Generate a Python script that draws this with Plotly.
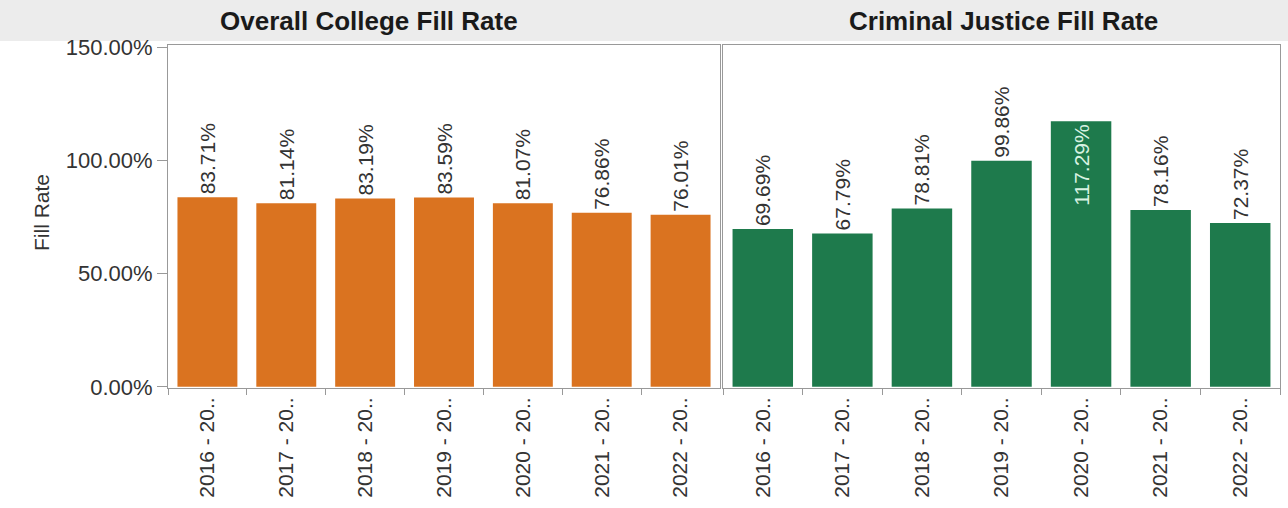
import plotly.graph_objects as go

categories = ["2016 - 2017", "2017 - 2018", "2018 - 2019", "2019 - 2020", "2020 - 2021", "2021 - 2022", "2022 - 2023"]
tick_labels = ["2016 - 20..", "2017 - 20..", "2018 - 20..", "2019 - 20..", "2020 - 20..", "2021 - 20..", "2022 - 20.."]
college_rate = [83.71, 81.14, 83.19, 83.59, 81.07, 76.86, 76.01]
cj_rate = [69.69, 67.79, 78.81, 99.86, 117.29, 78.16, 72.37]
panel_titles = ["Overall College Fill Rate", "Criminal Justice Fill Rate"]
y_ticks = [0, 50, 100, 150]
y_tick_labels = ["0.00%", "50.00%", "100.00%", "150.00%"]

W, H = 1288, 508
FONT = "Liberation Sans, Arial, sans-serif"
ORANGE = "#DA7320"
GREEN = "#1E7A4C"
TXT = "#333333"

def px_x(p):
    return p / W

def px_y(p):
    return 1 - p / H

fig = go.Figure()

fig.add_trace(go.Bar(
    x=categories, y=college_rate, xaxis="x", yaxis="y",
    marker=dict(color=ORANGE, line=dict(width=0)),
    text=[f"{v:.2f}%" for v in college_rate],
    textposition="outside", textangle=-90, constraintext="none", cliponaxis=False,
    textfont=dict(family=FONT, size=21, color=TXT),
    width=0.76, showlegend=False,
))

cj_pos = ["inside" if v > 110 else "outside" for v in cj_rate]
fig.add_trace(go.Bar(
    x=categories, y=cj_rate, xaxis="x2", yaxis="y2",
    marker=dict(color=GREEN, line=dict(width=0)),
    text=[f"{v:.2f}%" for v in cj_rate],
    textposition=cj_pos, textangle=-90, constraintext="none", cliponaxis=False,
    insidetextanchor="end",
    insidetextfont=dict(family=FONT, size=21, color="#D8F2E2"),
    outsidetextfont=dict(family=FONT, size=21, color=TXT),
    width=0.76, showlegend=False,
))

xcommon = dict(
    type="category", tickvals=categories, ticktext=tick_labels, tickangle=-90,
    ticks="outside", tickson="boundaries", ticklen=6, tickcolor="#999999",
    showline=True, linecolor="#999999", linewidth=1, mirror=True,
    showgrid=False, zeroline=False, automargin=False,
    tickfont=dict(family=FONT, size=21, color=TXT),
)
ycommon = dict(
    range=[-0.5, 151], tickvals=y_ticks, showgrid=False, zeroline=False,
    showline=True, linecolor="#999999", linewidth=1, mirror=True, automargin=False,
)

fig.update_layout(
    width=W, height=H, margin=dict(l=0, r=0, t=0, b=0, autoexpand=False),
    paper_bgcolor="white", plot_bgcolor="white",
    bargap=0.24,
    xaxis=dict(domain=[px_x(168), px_x(720)], anchor="y", **xcommon),
    xaxis2=dict(domain=[px_x(723), px_x(1280)], anchor="y2", **xcommon),
    yaxis=dict(domain=[px_y(388), px_y(45)], anchor="x", ticktext=y_tick_labels,
               ticks="outside", ticklen=10, tickcolor="#999999",
               tickfont=dict(family=FONT, size=22, color=TXT), **ycommon),
    yaxis2=dict(domain=[px_y(388), px_y(45)], anchor="x2", showticklabels=False,
                ticks="", **ycommon),
    shapes=[dict(type="rect", xref="paper", yref="paper", x0=0, x1=1,
                 y0=px_y(41), y1=1, fillcolor="#ECECEC", line=dict(width=0), layer="below")],
    annotations=[
        dict(text=f"<b>{panel_titles[0]}</b>", x=px_x(369), y=px_y(21), xref="paper", yref="paper",
             xanchor="center", yanchor="middle",
             showarrow=False, font=dict(family=FONT, size=26, color="#1A1A1A")),
        dict(text=f"<b>{panel_titles[1]}</b>", x=px_x(1003), y=px_y(21), xref="paper", yref="paper",
             xanchor="center", yanchor="middle",
             showarrow=False, font=dict(family=FONT, size=26, color="#1A1A1A")),
        dict(text="Fill Rate", x=px_x(42), y=px_y(213), xref="paper", yref="paper",
             xanchor="center", yanchor="middle",
             showarrow=False, textangle=-90, font=dict(family=FONT, size=21, color=TXT)),
    ],
)

post = (
    "document.documentElement.style.margin='0';"
    "document.body.style.margin='0';document.body.style.padding='0';"
    "var d=document.getElementById('{plot_id}');"
    "var p=d.parentElement;p.style.position='absolute';p.style.top='0px';p.style.left='0px';"
    "p.style.margin='0';"
)
fig.write_html("out.html", post_script=post, config={"displayModeBar": False})
